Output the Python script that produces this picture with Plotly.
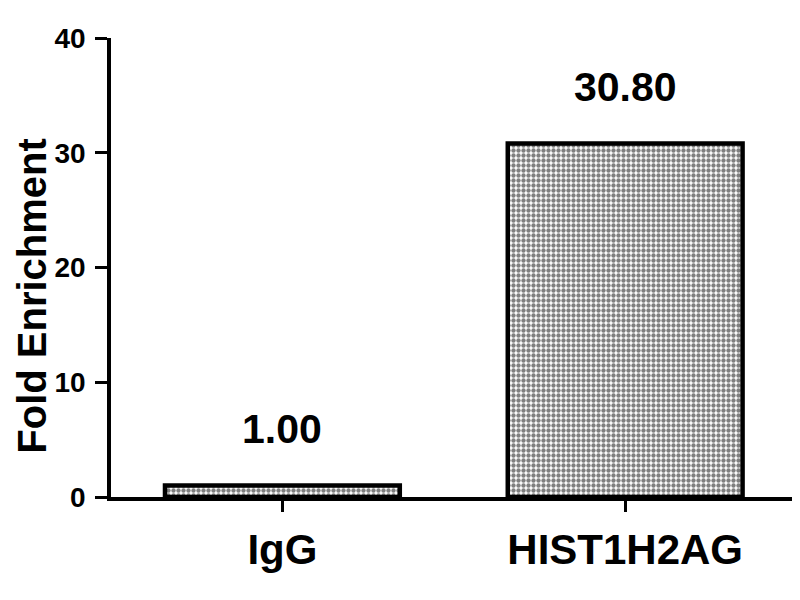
import plotly.graph_objects as go

# data
groups = ["IgG", "HIST1H2AG"]
fold_enrichment = [1.00, 30.80]
value_labels = ["1.00", "30.80"]
y_ticks = [0, 10, 20, 30, 40]

FONT = "Liberation Sans, Arial, sans-serif"

fig = go.Figure()
fig.add_trace(go.Bar(
    x=groups,
    y=fold_enrichment,
    width=0.685,
    marker=dict(
        color="white",
        line=dict(color="black", width=4.5),
        pattern=dict(shape=".", fgcolor="black", bgcolor="white", size=5, solidity=0.6),
    ),
    showlegend=False,
))

# value labels above the bars
for g, v, lab in zip(groups, fold_enrichment, value_labels):
    fig.add_annotation(
        x=g, y=v, text=lab, showarrow=False,
        yanchor="bottom", yshift=32,
        font=dict(family=FONT, size=41, color="black", weight="bold"),
    )

# y axis title (sits a little below the middle, as in the original)
fig.add_annotation(
    xref="paper", yref="paper", x=-0.115, y=0.438,
    text="Fold Enrichment", textangle=-90, showarrow=False,
    xanchor="center", yanchor="middle",
    font=dict(family=FONT, size=40, color="black", weight="bold"),
)

# page body adds 8px, so margins are shifted to land the plot where the original has it
fig.update_layout(
    width=800,
    height=600,
    margin=dict(l=103, r=8, t=30, b=111),
    plot_bgcolor="white",
    paper_bgcolor="white",
)
fig.update_xaxes(
    range=[-0.5, 1.51],
    automargin=False,
    showline=True, linecolor="black", linewidth=3.5,
    ticks="outside", ticklen=11, tickwidth=2.5, tickcolor="black",
    tickfont=dict(family=FONT, size=42, color="black", weight="bold"),
    ticklabelstandoff=2,
    showgrid=False, zeroline=False,
)
fig.update_yaxes(
    range=[0, 40],
    automargin=False,
    tickvals=y_ticks,
    showline=True, linecolor="black", linewidth=3.5,
    ticks="outside", ticklen=12, tickwidth=3, tickcolor="black",
    tickfont=dict(family=FONT, size=28, color="black", weight="bold"),
    ticklabelstandoff=4,
    showgrid=False, zeroline=False,
)

fig.write_html("out.html")
